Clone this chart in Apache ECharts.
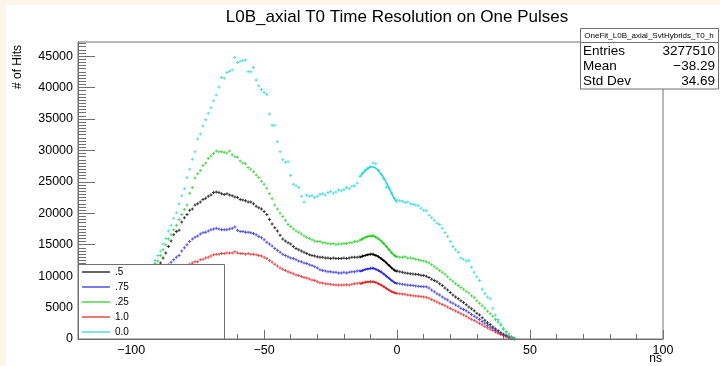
<!DOCTYPE html>
<html><head><meta charset="utf-8">
<script src="https://cdn.jsdelivr.net/npm/echarts@6/dist/echarts.min.js"></script>
<style>html,body{margin:0;padding:0;background:#fbf6e9}#c{width:720px;height:366px}</style>
</head><body><div id="c"></div><script>
// ---- data ----
const BIN_START = -95;          // first bin centre (ns), bins are 1 ns wide
const seriesNames = ['.5', '.75', '.25', '1.0', '0.0'];
const seriesColors = ['#000000', '#2626d9', '#22cc22', '#dd2222', '#22d6d6'];

const vals_05 = [7200,8000,8900,9800,10700,11400,12100,12900,13700,14700,
15600,16600,17100,17300,18600,19300,19800,20500,20700,21300,
21500,21800,22200,22400,22700,22900,23300,23400,23300,23100,
23000,23100,22900,22800,22600,22500,22200,22100,22000,21800,
21800,21500,21100,20900,20700,20300,19800,19000,18300,17700,
17200,16500,15900,15600,15300,15100,14700,14400,14200,14000,
13800,13600,13400,13300,13200,13100,13000,13000,12900,12900,
12800,12900,12800,12800,12800,12900,12800,12900,13000,13000,
13000,13100,13200,13300,13400,13500,13500,13300,13100,12800,
12500,12100,11700,11300,10950,10800,10700,10600,10500,10450,
10400,10350,10300,10250,10150,10100,10000,9800,9500,9300,
9100,8800,8500,8100,7800,7400,7000,6700,6400,6100,
5800,5450,5100,4800,4500,4100,3800,3400,3000,2600,
2300,1900,1600,1300,1000,750,550,350,150,50];

const vals_075 = [6000,6800,7500,8200,8900,9500,10100,10700,11300,11800,
12200,12600,13000,13300,14000,14500,15000,15500,15900,16200,
16400,16700,16900,17000,17200,17400,17500,17600,17500,17400,
17400,17400,17500,17600,17800,17300,17100,17100,17000,17000,
16900,16800,16600,16300,16100,15800,15400,15100,14800,14400,
14100,13800,13500,13300,13100,12900,12800,12600,12400,12300,
12100,12000,11800,11700,11500,11300,11000,10900,10800,10700,
10700,10600,10600,10500,10500,10600,10500,10600,10700,10700,
10800,10850,10900,11050,11150,11250,11300,11100,10900,10650,
10350,10000,9650,9300,9000,8850,8800,8700,8650,8600,
8550,8500,8450,8400,8350,8300,8300,8100,7800,7500,
7200,7000,6700,6400,6200,5900,5700,5400,5200,4900,
4700,4500,4200,3900,3600,3400,3100,2800,2500,2200,
1900,1700,1400,1100,850,650,480,300,150,50];

const vals_025 = [7500,8600,9700,10800,12000,12400,13300,14200,15000,15900,
16600,17400,18100,19000,19800,20600,21300,23200,24100,25600,
26300,26800,27600,28000,28700,29100,29500,29900,29800,29800,
29700,29600,29900,29300,29000,28900,28300,28000,27900,27300,
27000,26600,26100,25700,25100,24600,24000,23100,22300,21300,
20700,20000,19500,18900,18200,17900,17500,17200,17000,16700,
16400,16200,16000,15800,15600,15500,15500,15300,15300,15200,
15100,15200,15000,15100,15100,15200,15200,15300,15300,15500,
15500,15700,15900,16100,16300,16400,16500,16200,15900,15600,
15200,14700,14200,13700,13300,13100,13000,13000,13100,12900,
12900,12800,12700,12600,12500,12400,12300,12100,11800,11500,
11200,10900,10600,10300,9900,9500,9200,8800,8500,8200,
7900,7600,7300,6900,6600,6100,5700,5300,4900,4400,
4000,3600,3100,2700,2200,1700,1200,800,400,150];

const vals_10 = [4000,4600,5200,5800,6400,7000,7500,8000,8500,9000,
9500,10000,10400,10800,11100,11400,11700,11900,12100,12300,
12300,12600,12700,12900,13000,13200,13400,13500,13500,13600,
13600,13700,13700,13700,13900,13700,13600,13600,13500,13600,
13500,13500,13400,13300,13200,13000,12800,12500,12200,11900,
11600,11300,11100,10900,10700,10550,10400,10200,10100,9950,
9800,9700,9550,9400,9300,9100,8950,8900,8800,8750,
8700,8650,8600,8600,8580,8600,8650,8600,8700,8800,
8850,8900,8950,9050,9100,9150,9150,9000,8800,8580,
8320,8050,7800,7550,7350,7250,7200,7150,7100,7000,
6980,6900,6850,6800,6750,6700,6650,6500,6300,6100,
5900,5700,5500,5300,5100,4850,4650,4450,4250,4000,
3800,3600,3350,3150,2950,2700,2500,2250,2000,1800,
1550,1350,1100,900,700,500,380,250,120,40];

const vals_00 = [7000,8500,9800,11200,12500,13300,14000,15100,16000,17200,
18100,19200,20100,21500,22800,23900,25700,27000,28600,29800,
31800,32600,33900,34900,35900,36800,37900,38800,40100,41600,
41500,42400,42600,42800,44800,44000,44200,44300,44400,42500,
42500,43200,41200,40300,39700,39200,38900,35800,34000,34000,
31400,29800,28500,28100,28200,26000,24600,24400,24100,22700,
21800,22900,22700,22800,22500,22700,23000,23100,22900,23300,
23500,23200,23400,23700,23600,23800,24100,23900,24300,24400,
24800,25900,26400,26900,27200,27400,28000,27900,26800,26200,
25500,24200,24000,23200,22400,22100,22000,21900,21700,21800,
21500,21400,21300,21200,20800,20500,20400,19700,19300,18900,
18400,18200,17600,16900,16300,15500,14700,14200,13800,12900,
12700,12400,12500,11400,10600,9900,9300,7900,7200,6700,
6400,4900,3800,3100,2400,1500,1000,500,200,50];

// fitted curves drawn over the bump (x = -14 .. 0 ns)
const fitX = [-14,-13,-12,-11,-10,-9,-8,-7,-6,-5,-4,-3,-2,-1,0];
const fit_05  = [12950,13150,13300,13420,13470,13430,13300,13100,12800,12450,12100,11700,11300,10950,10700];
const fit_075 = [10700,10880,11050,11170,11220,11200,11100,10900,10650,10350,10000,9650,9300,9000,8800];
const fit_025 = [15700,15950,16150,16300,16380,16350,16200,15950,15600,15150,14700,14200,13700,13300,13050];
const fit_10  = [8750,8880,9000,9080,9110,9080,8980,8800,8580,8320,8050,7780,7520,7350,7230];
const fit_00  = [25800,26300,26750,27100,27350,27350,27150,26750,26200,25600,24850,24000,23100,22300,21700];

const xTickLabels = [-100, -50, 0, 50, 100];
const yTickLabels = [0,5000,10000,15000,20000,25000,30000,35000,40000,45000];
const statsRows = [['Entries','3277510'],['Mean','\u221238.29'],['Std Dev','34.69']];
const statsTitle = 'OneFit_L0B_axial_SvtHybrids_T0_h';
const titleText = 'L0B_axial T0 Time Resolution on One Pulses';

// ---- build ----
const allVals = [vals_05, vals_075, vals_025, vals_10, vals_00];
const allFits = [fit_05, fit_075, fit_025, fit_10, fit_00];
const xMinor = []; for (let v = -120; v <= 100; v += 10) xMinor.push(v);
const yMinor = []; for (let v = 0; v <= 47000; v += 500) yMinor.push(v);
const FONT = '"Liberation Sans", Arial, Helvetica, sans-serif';
const AX = '#707070';
const PLUS = 'path://M0,1H3V2H0Z M1,0H2V3H1Z';

const series = [];
allVals.forEach((vals, k) => {
  series.push({
    name: seriesNames[k], type: 'scatter', xAxisIndex: 0, yAxisIndex: 0,
    symbol: PLUS, symbolSize: 3, itemStyle: {color: seriesColors[k]},
    data: vals.map((v, i) => [BIN_START + i, v]), z: 2, silent: true
  });
});
allFits.forEach((vals, k) => {
  series.push({
    name: seriesNames[k] + ' fit', type: 'line', smooth: true, showSymbol: false,
    lineStyle: {color: seriesColors[k], width: 1.5}, itemStyle: {color: seriesColors[k]},
    data: vals.map((v, i) => [fitX[i], v]), z: 3, silent: true
  });
});

const graphic = [
  {type: 'rect', z: -1, shape: {x: 6, y: 5, width: 714, height: 361}, style: {fill: '#ffffff'}},
  {type: 'text', z: 5, x: 397, y: 17, style: {text: titleText, font: '17px ' + FONT, fill: '#000', textAlign: 'center', textVerticalAlign: 'middle'}},
  {type: 'text', z: 5, x: 18, y: 45, rotation: Math.PI / 2, style: {text: '# of Hits', font: '12px ' + FONT, fill: '#000', textAlign: 'right', textVerticalAlign: 'middle'}},
  {type: 'text', z: 5, x: 662, y: 359, style: {text: 'ns', font: '12px ' + FONT, fill: '#000', textAlign: 'right', textVerticalAlign: 'middle'}},
  // legend box
  {type: 'rect', z: 10, shape: {x: 78.5, y: 264.5, width: 146, height: 74.5}, style: {fill: '#ffffff', stroke: AX, lineWidth: 1}},
  // stats box
  {type: 'rect', z: 10, shape: {x: 580.5, y: 28.5, width: 138, height: 14}, style: {fill: '#ffffff', stroke: AX, lineWidth: 1}},
  {type: 'rect', z: 10, shape: {x: 580.5, y: 42.5, width: 138, height: 46.5}, style: {fill: '#ffffff', stroke: AX, lineWidth: 1}},
  {type: 'text', z: 11, x: 649, y: 36, style: {text: statsTitle, font: '8px ' + FONT, fill: '#000', textAlign: 'center', textVerticalAlign: 'middle'}}
];
statsRows.forEach((r, i) => {
  const y = 51 + i * 15.2;
  graphic.push({type: 'text', z: 11, x: 583, y: y, style: {text: r[0], font: '13.5px ' + FONT, fill: '#000', textAlign: 'left', textVerticalAlign: 'middle'}});
  graphic.push({type: 'text', z: 11, x: 715, y: y, style: {text: r[1], font: '13.5px ' + FONT, fill: '#000', textAlign: 'right', textVerticalAlign: 'middle'}});
});

const chart = echarts.init(document.getElementById('c'), null, {renderer: 'canvas'});
chart.setOption({
  animation: false,
  backgroundColor: 'transparent',
  grid: {left: 78, right: 57, top: 42, bottom: 27, show: true, borderColor: AX, borderWidth: 1, backgroundColor: 'transparent'},
  xAxis: [
    {type: 'value', min: -120, max: 100, position: 'bottom',
     axisLine: {show: true, onZero: false, lineStyle: {color: AX}},
     axisTick: {show: true, inside: true, length: 9, lineStyle: {color: AX}, customValues: xTickLabels},
     axisLabel: {show: true, customValues: xTickLabels, margin: 5, color: '#000', fontSize: 12.5, fontFamily: FONT,
                 formatter: v => String(v).replace('-', '\u2212')},
     splitLine: {show: false}},
    {type: 'value', min: -120, max: 100, position: 'bottom',
     axisLine: {show: false, onZero: false},
     axisTick: {show: true, inside: true, length: 5, lineStyle: {color: AX}, customValues: xMinor},
     axisLabel: {show: false}, splitLine: {show: false}}
  ],
  yAxis: [
    {type: 'value', min: 0, max: 47250, position: 'left',
     axisLine: {show: true, onZero: false, lineStyle: {color: AX}},
     axisTick: {show: true, inside: true, length: 17, lineStyle: {color: AX}, customValues: yTickLabels},
     axisLabel: {show: true, customValues: yTickLabels, margin: 5, color: '#000', fontSize: 12.5, fontFamily: FONT,
                 formatter: v => String(v)},
     splitLine: {show: false}},
    {type: 'value', min: 0, max: 47250, position: 'left',
     axisLine: {show: false, onZero: false},
     axisTick: {show: true, inside: true, length: 8, lineStyle: {color: AX}, customValues: yMinor},
     axisLabel: {show: false}, splitLine: {show: false}}
  ],
  legend: {
    data: seriesNames, orient: 'vertical', left: 82, top: 266,
    itemWidth: 28, itemHeight: 1.5, itemGap: 3, icon: 'rect', selectedMode: false,
    padding: 0, z: 20,
    textStyle: {fontSize: 10, fontFamily: FONT, color: '#000', lineHeight: 12}
  },
  graphic: graphic,
  series: series
});
</script></body></html>
